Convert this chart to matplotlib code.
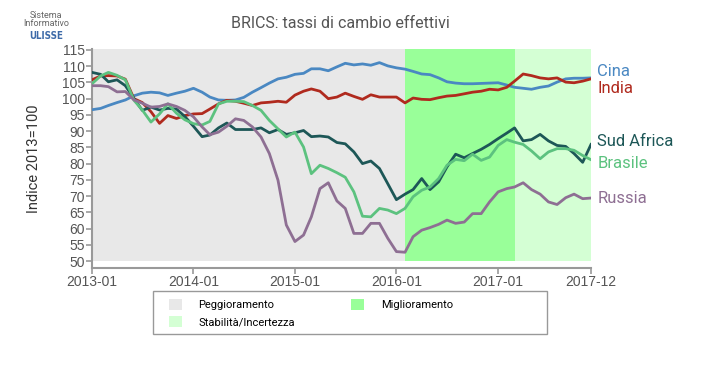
import numpy as np
import pandas as pd
import matplotlib
matplotlib.use("Agg")
import matplotlib.pyplot as plt
from matplotlib.patches import Patch, Rectangle

# data (monthly index, 2013=100)
dates = pd.date_range("2013-01-01", periods=60, freq="MS")

cina = [96.6, 97.0, 97.9, 98.8, 99.6, 100.9, 101.7, 102.0, 101.8, 101.0,
        101.7, 102.3, 103.2, 102.0, 100.5, 99.6, 99.5, 99.6, 100.4, 102.0,
        103.4, 104.8, 106.1, 106.6, 107.5, 107.8, 109.2, 109.2, 108.6, 109.8,
        110.9, 110.4, 110.7, 110.3, 111.1, 110.1, 109.5, 109.1, 108.4, 107.6,
        107.4, 106.4, 105.2, 104.8, 104.6, 104.6, 104.7, 104.8, 104.9, 104.2,
        103.5, 103.2, 102.9, 103.5, 103.9, 105.1, 106.1, 106.3, 106.3, 106.4]
india = [105.8, 107.0, 107.1, 107.0, 106.0, 100.0, 98.8, 96.0, 92.4, 94.8,
         93.9, 94.8, 95.3, 95.4, 96.8, 98.4, 99.5, 99.2, 98.6, 97.9,
         98.7, 98.9, 99.2, 98.9, 101.1, 102.3, 103.0, 102.3, 100.0, 100.5,
         101.7, 100.7, 99.8, 101.2, 100.5, 100.5, 100.5, 98.7, 100.2, 99.8,
         99.7, 100.3, 100.8, 101.0, 101.5, 102.0, 102.3, 102.9, 102.7, 103.5,
         105.4, 107.6, 107.1, 106.4, 106.1, 106.4, 105.1, 104.9, 105.4, 106.1]
sud_africa = [108.1, 107.5, 105.2, 105.8, 104.0, 100.0, 96.4, 97.4, 96.5, 97.0,
              96.8, 94.5, 91.5, 88.3, 88.8, 91.0, 92.5, 90.5, 90.5, 90.5,
              91.0, 89.5, 90.5, 89.0, 89.5, 90.2, 88.3, 88.5, 88.2, 86.5,
              86.1, 83.6, 80.0, 80.8, 78.5, 73.8, 68.9, 70.6, 72.0, 75.4,
              72.0, 74.4, 79.0, 82.9, 81.8, 83.1, 84.4, 85.9, 87.7, 89.4,
              91.0, 87.0, 87.4, 89.0, 87.0, 85.6, 85.3, 83.1, 80.4, 85.9]
brasile = [104.6, 107.0, 108.1, 107.2, 105.8, 99.5, 96.5, 92.8, 95.3, 98.4,
           95.5, 93.5, 92.3, 91.9, 93.0, 98.4, 99.2, 99.2, 99.1, 97.9,
           96.4, 93.3, 90.7, 88.2, 89.7, 85.1, 76.9, 79.5, 78.5, 77.2,
           75.8, 71.3, 63.8, 63.6, 66.2, 65.7, 64.6, 66.2, 69.8, 71.8,
           72.8, 75.4, 79.5, 81.3, 80.9, 82.9, 81.0, 82.0, 85.6, 87.4,
           86.6, 85.9, 83.9, 81.5, 83.6, 84.6, 84.6, 84.1, 82.5, 81.2]
russia = [104.0, 104.0, 103.7, 102.1, 102.2, 99.6, 98.6, 97.4, 97.6, 98.4,
          97.6, 96.4, 94.4, 91.3, 88.9, 89.7, 91.5, 93.8, 93.3, 91.3,
          88.2, 83.1, 74.9, 61.1, 56.0, 58.0, 63.6, 72.3, 74.1, 68.5,
          66.2, 58.5, 58.5, 61.6, 61.6, 57.0, 52.9, 52.7, 57.5, 59.5,
          60.3, 61.3, 62.6, 61.6, 62.0, 64.6, 64.6, 68.2, 71.3, 72.3,
          72.8, 74.1, 72.0, 70.6, 68.2, 67.4, 69.5, 70.6, 69.2, 69.4]

series_names = ["Cina", "India", "Sud Africa", "Brasile", "Russia"]
series_values = [cina, india, sud_africa, brasile, russia]
series_colors = ["#4a88c2", "#b02a1e", "#1d5757", "#5cc27f", "#8e6f93"]
label_y = [108.4, 103.2, 86.7, 80.0, 69.3]

# phases shown as background bands
phase_labels = ["Peggioramento", "Miglioramento", "Stabilità/Incertezza"]
phase_start = ["2013-01-01", "2016-02-01", "2017-03-01"]
phase_end = ["2016-02-01", "2017-03-01", "2017-12-01"]
phase_colors = ["#e8e8e8", "#99ff99", "#d4ffd4"]

tick_dates = ["2013-01-01", "2014-01-01", "2015-01-01", "2016-01-01",
              "2017-01-01", "2017-12-01"]
tick_labels = ["2013-01", "2014-01", "2015-01", "2016-01", "2017-01", "2017-12"]

W, H = 708, 369
fig = plt.figure(figsize=(W / 100, H / 100), dpi=100)
ax = fig.add_axes([92 / W, 1 - 268 / H, (591 - 92) / W, (268 - 49) / H])

ymin, ymax = 47.85, 115.3
for s, e, c in zip(phase_start, phase_end, phase_colors):
    ax.fill_between(pd.to_datetime([s, e]), 50, ymax, color=c, lw=0, zorder=0)

for name, vals, col, ly in zip(series_names, series_values, series_colors, label_y):
    ax.plot(dates, vals, color=col, lw=2.0, zorder=3)
    ax.annotate(name, xy=(dates[-1], ly), xytext=(4.5, 0),
                textcoords="offset points", va="center", ha="left",
                color=col, fontsize=12, family="Roboto", annotation_clip=False)

ax.set_xlim(dates[0], dates[-1])
ax.set_ylim(ymin, ymax)
ax.set_yticks(np.arange(50, 116, 5))
ax.set_xticks(pd.to_datetime(tick_dates))
ax.set_xticklabels(tick_labels)

for sp in ["top", "right"]:
    ax.spines[sp].set_visible(False)
for sp in ["left", "bottom"]:
    ax.spines[sp].set_color("#999999")
    ax.spines[sp].set_linewidth(1.5)
ax.tick_params(colors="#999999", labelcolor="#555555", length=4, width=1.2,
               labelsize=10)
for lab in ax.get_xticklabels() + ax.get_yticklabels():
    lab.set_family("Liberation Sans")
ax.tick_params(axis="y", pad=1)
ax.tick_params(axis="x", pad=1)

ax.set_ylabel("Indice 2013=100", family="Roboto", fontsize=10.5, color="#333333",
              labelpad=15)

fig.text(340 / W, 1 - 24 / H, "BRICS: tassi di cambio effettivi", ha="center",
         va="center", family="Roboto", fontsize=11.5, color="#555555")

# logo
fig.text(46 / W, 1 - 15 / H, "Sistema", ha="center", va="center",
         family="Roboto", fontsize=6.5, color="#666666")
fig.text(46 / W, 1 - 23 / H, "Informativo", ha="center", va="center",
         family="Roboto", fontsize=6.5, color="#666666")
fig.text(46 / W, 1 - 36 / H, "ULISSE", ha="center", va="center",
         family="DejaVu Sans", fontsize=7, weight="bold", color="#3d6aa8",
         fontstretch="condensed")

# legend
fig.patches.append(Rectangle((153 / W, 1 - 334 / H), 394 / W, 43 / H,
                             transform=fig.transFigure, fill=False,
                             edgecolor="#999999", lw=1))
order = [0, 2, 1]
handles = [Patch(facecolor=phase_colors[i], edgecolor="none") for i in order]
fig.legend(handles, [phase_labels[i] for i in order], loc="upper left",
           bbox_to_anchor=(163 / W, 1 - 293 / H), ncol=2, frameon=False,
           borderpad=0, handlelength=1.2, handleheight=1.2, handletextpad=1.5,
           columnspacing=5.0, labelspacing=0.5,
           prop={"family": "Roboto", "size": 8})

fig.savefig("out.png", dpi=100)
